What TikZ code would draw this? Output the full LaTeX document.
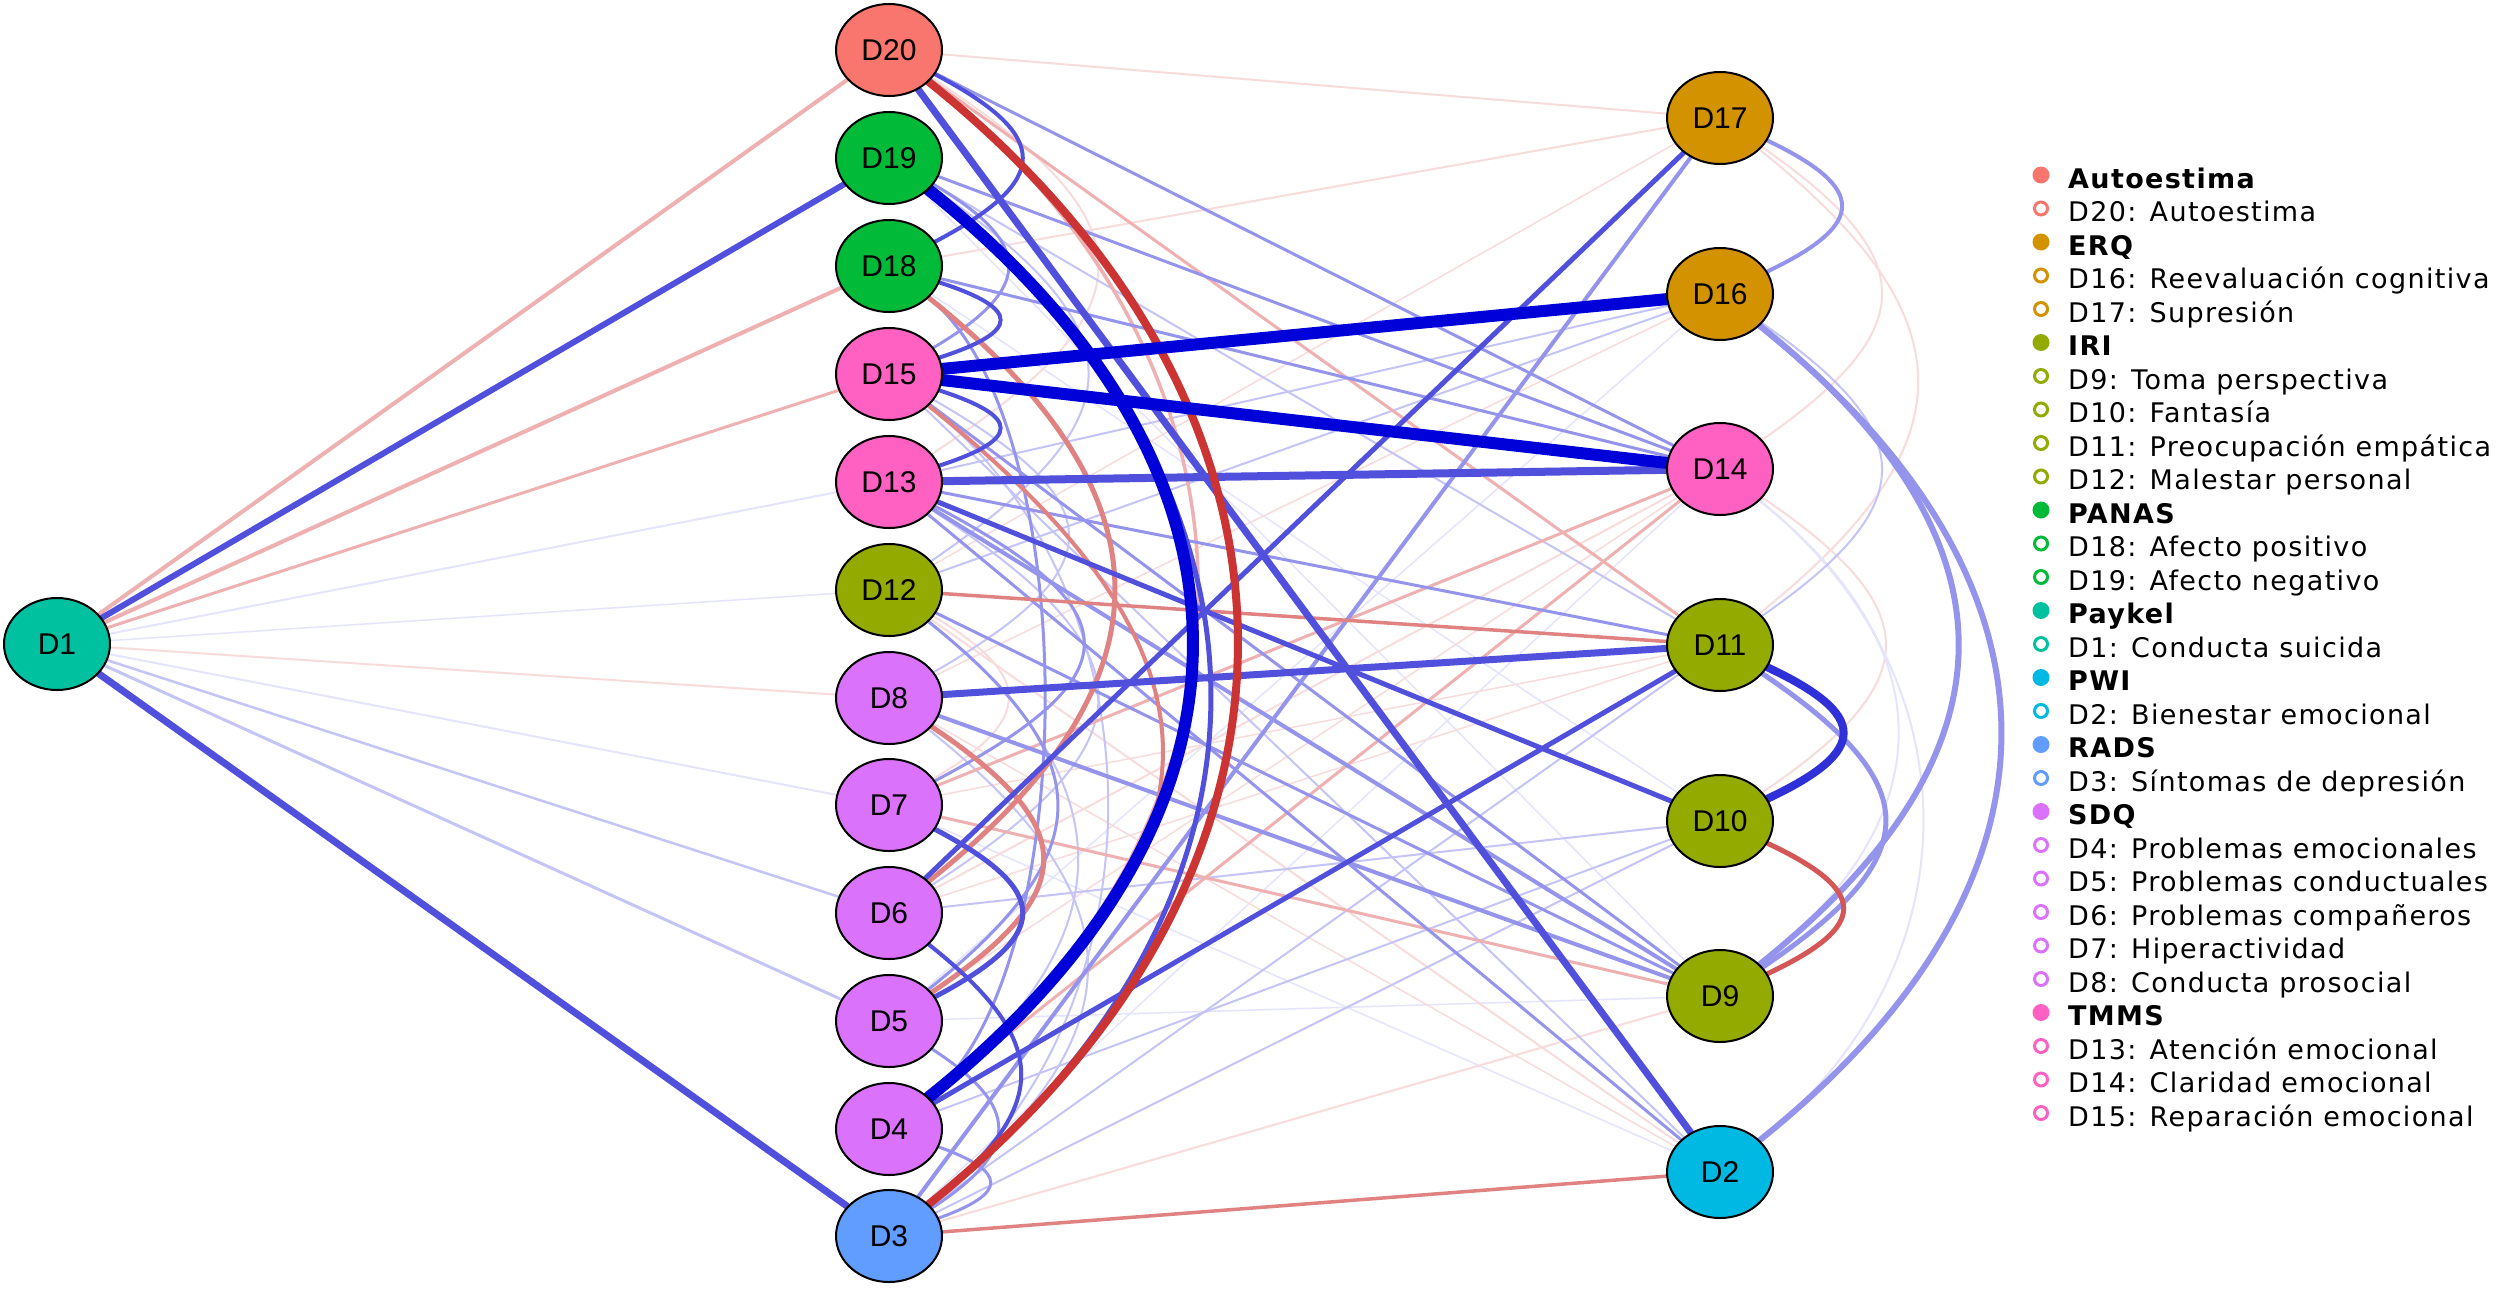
\documentclass[tikz,border=0pt]{standalone}
\usepackage{fontspec}
\setmainfont{Liberation Sans}
\newfontfamily\legfont[LetterSpace=5]{DejaVu Sans}
\usetikzlibrary{shapes.geometric}
\pgfdeclarelayer{bg}
\pgfdeclarelayer{edges}
\pgfsetlayers{bg,edges,main}
\definecolor{cAuto}{HTML}{F8766D}
\definecolor{cERQ}{HTML}{D39200}
\definecolor{cIRI}{HTML}{93AA00}
\definecolor{cPANAS}{HTML}{00BA38}
\definecolor{cPaykel}{HTML}{00C19F}
\definecolor{cPWI}{HTML}{00B9E3}
\definecolor{cRADS}{HTML}{619CFF}
\definecolor{cSDQ}{HTML}{DB72FB}
\definecolor{cTMMS}{HTML}{FF61C3}
\definecolor{eb1}{HTML}{0000D8}
\definecolor{eb15}{HTML}{3030D8}
\definecolor{eb2}{HTML}{5050DC}
\definecolor{eb3}{HTML}{9494EC}
\definecolor{eb4}{HTML}{C4C4F6}
\definecolor{eb5}{HTML}{E4E4FC}
\definecolor{er1}{HTML}{CC3333}
\definecolor{er15}{HTML}{D45656}
\definecolor{er2}{HTML}{E08282}
\definecolor{er3}{HTML}{EEB0B0}
\definecolor{er4}{HTML}{F8DCDC}
\newcommand\myedge[3]{\draw[edg,#1] (#2)--(#3);}
\newcommand\mycurve[5]{\draw[edg,#1] (#2) .. controls +(#4,-#5) and +(#4,#5) .. (#3);}
\begin{document}
\begin{tikzpicture}[x=1pt,y=1pt,
  vnode/.style={ellipse,draw=black,line width=2pt,minimum width=106pt,minimum height=92pt,inner sep=0pt,font=\fontsize{30}{30}\selectfont},
  edg/.style={line cap=round},
  legtxt/.style={anchor=base west,inner sep=0pt,font=\legfont\fontsize{27}{27}\selectfont},
  leghead/.style={anchor=base west,inner sep=0pt,font=\legfont\bfseries\fontsize{27}{27}\selectfont}]
\begin{pgfonlayer}{bg}
\fill[white] (0,0) rectangle (2508,-1288);
\end{pgfonlayer}
\useasboundingbox (0,0) rectangle (2508,-1288);
% nodes
\node[vnode,fill=cPaykel] (D1) at (57,-644) {D1};
\node[vnode,fill=cAuto] (D20) at (889,-50) {D20};
\node[vnode,fill=cPANAS] (D19) at (889,-158) {D19};
\node[vnode,fill=cPANAS] (D18) at (889,-266) {D18};
\node[vnode,fill=cTMMS] (D15) at (889,-374) {D15};
\node[vnode,fill=cTMMS] (D13) at (889,-482) {D13};
\node[vnode,fill=cIRI] (D12) at (889,-590) {D12};
\node[vnode,fill=cSDQ] (D8) at (889,-698) {D8};
\node[vnode,fill=cSDQ] (D7) at (889,-805) {D7};
\node[vnode,fill=cSDQ] (D6) at (889,-913) {D6};
\node[vnode,fill=cSDQ] (D5) at (889,-1021) {D5};
\node[vnode,fill=cSDQ] (D4) at (889,-1129) {D4};
\node[vnode,fill=cRADS] (D3) at (889,-1236) {D3};
\node[vnode,fill=cERQ] (D17) at (1720,-118) {D17};
\node[vnode,fill=cERQ] (D16) at (1720,-294) {D16};
\node[vnode,fill=cTMMS] (D14) at (1720,-469) {D14};
\node[vnode,fill=cIRI] (D11) at (1720,-645) {D11};
\node[vnode,fill=cIRI] (D10) at (1720,-821) {D10};
\node[vnode,fill=cIRI] (D9) at (1720,-996) {D9};
\node[vnode,fill=cPWI] (D2) at (1720,-1172) {D2};
\begin{pgfonlayer}{edges}
% very faint
\myedge{eb5,line width=2pt}{D1}{D13}
\myedge{eb5,line width=1.5pt}{D1}{D12}
\myedge{eb5,line width=2pt}{D1}{D7}
\myedge{eb5,line width=1.5pt}{D7}{D2}
\myedge{eb5,line width=1.5pt}{D5}{D9}
\myedge{eb5,line width=1.5pt}{D18}{D10}
\myedge{eb5,line width=1.5pt}{D19}{D9}
\myedge{eb5,line width=1.5pt}{D5}{D16}
\myedge{eb5,line width=1.5pt}{D3}{D14}
\myedge{er4,line width=2pt}{D1}{D8}
\myedge{er4,line width=2pt}{D20}{D17}
\myedge{er4,line width=2pt}{D18}{D17}
\myedge{er4,line width=1.5pt}{D12}{D17}
\myedge{er4,line width=1.5pt}{D8}{D16}
\myedge{er4,line width=1.5pt}{D6}{D11}
\myedge{er4,line width=1.5pt}{D5}{D14}
\myedge{er4,line width=1.5pt}{D7}{D11}
\myedge{er4,line width=2pt}{D3}{D9}
\myedge{er4,line width=2pt}{D12}{D2}
\myedge{er4,line width=1.5pt}{D8}{D2}
\myedge{er4,line width=2pt}{D6}{D14}
\mycurve{er4,line width=2pt}{D17}{D14}{202}{140}
\mycurve{er4,line width=2pt}{D17}{D11}{251}{201}
\mycurve{er4,line width=2pt}{D14}{D10}{207}{140}
\mycurve{eb5,line width=2pt}{D14}{D2}{258}{206}
\mycurve{eb5,line width=2pt}{D14}{D9}{225}{180}
\mycurve{er4,line width=2pt}{D20}{D13}{265}{173}
\mycurve{er4,line width=2pt}{D12}{D7}{145}{86}
% light blue
\myedge{eb4,line width=2.5pt}{D1}{D6}
\myedge{eb4,line width=3pt}{D1}{D5}
\myedge{eb4,line width=2pt}{D12}{D16}
\myedge{eb4,line width=2pt}{D6}{D10}
\myedge{eb4,line width=2pt}{D19}{D11}
\myedge{eb4,line width=2pt}{D4}{D10}
\myedge{eb4,line width=2pt}{D3}{D10}
\myedge{eb4,line width=2pt}{D3}{D11}
\myedge{eb4,line width=2pt}{D13}{D16}
\myedge{eb4,line width=2pt}{D15}{D2}
\mycurve{eb4,line width=2pt}{D16}{D11}{202}{140}
\mycurve{eb4,line width=2pt}{D19}{D12}{252}{173}
\mycurve{eb4,line width=2pt}{D15}{D8}{225}{130}
\mycurve{eb4,line width=2pt}{D12}{D4}{239}{191}
\mycurve{eb4,line width=2pt}{D8}{D3}{252}{201}
\mycurve{eb4,line width=2pt}{D13}{D6}{265}{173}
\mycurve{eb4,line width=2pt}{D15}{D3}{279}{223}
% light red
\myedge{er3,line width=4pt}{D1}{D20}
\myedge{er3,line width=4pt}{D1}{D18}
\myedge{er3,line width=3pt}{D1}{D15}
\myedge{er3,line width=3pt}{D20}{D11}
\myedge{er3,line width=3pt}{D4}{D14}
\myedge{er3,line width=3pt}{D7}{D14}
\myedge{er3,line width=3pt}{D7}{D9}
\mycurve{er3,line width=3.5pt}{D20}{D4}{399}{319}
% medium-light blue
\myedge{eb3,line width=4pt}{D13}{D9}
\myedge{eb3,line width=3pt}{D13}{D2}
\myedge{eb3,line width=3pt}{D13}{D11}
\myedge{eb3,line width=4pt}{D3}{D17}
\myedge{eb3,line width=3pt}{D20}{D14}
\myedge{eb3,line width=4pt}{D8}{D9}
\myedge{eb3,line width=3pt}{D15}{D9}
\myedge{eb3,line width=3pt}{D18}{D14}
\myedge{eb3,line width=3pt}{D19}{D14}
\myedge{eb3,line width=3pt}{D12}{D9}
\mycurve{eb3,line width=3pt}{D18}{D4}{195}{156}
\mycurve{eb3,line width=3pt}{D12}{D5}{212}{170}
\mycurve{eb3,line width=3pt}{D13}{D7}{245}{129}
\mycurve{eb3,line width=3pt}{D5}{D3}{132}{86}
\mycurve{eb3,line width=3pt}{D19}{D15}{145}{86}
\mycurve{eb3,line width=3pt}{D4}{D3}{119}{43}
\mycurve{eb3,line width=4pt}{D17}{D16}{147}{70}
\mycurve{eb3,line width=5pt}{D11}{D9}{207}{140}
\mycurve{eb3,line width=6pt}{D16}{D9}{305}{244}
\mycurve{eb3,line width=6pt}{D16}{D2}{362}{290}
% salmon
\myedge{er2,line width=3.5pt}{D12}{D11}
\myedge{er2,line width=3.5pt}{D3}{D2}
\mycurve{er2,line width=5pt}{D18}{D6}{288}{230}
\mycurve{er2,line width=4pt}{D15}{D4}{352}{282}
\mycurve{er2,line width=5pt}{D8}{D5}{192}{129}
\mycurve{er15,line width=5pt}{D10}{D9}{149}{70}
% medium blue
\myedge{eb2,line width=6pt}{D1}{D19}
\myedge{eb2,line width=7pt}{D1}{D3}
\myedge{eb2,line width=8pt}{D13}{D14}
\myedge{eb2,line width=7pt}{D8}{D11}
\myedge{eb2,line width=7pt}{D20}{D2}
\myedge{eb2,line width=5pt}{D6}{D17}
\myedge{eb2,line width=5pt}{D4}{D11}
\myedge{eb2,line width=5pt}{D13}{D10}
\mycurve{eb2,line width=5pt}{D19}{D3}{416}{333}
\mycurve{eb2,line width=4pt}{D20}{D18}{163}{86}
\mycurve{eb2,line width=4pt}{D18}{D15}{132}{43}
\mycurve{eb2,line width=4pt}{D15}{D13}{132}{43}
\mycurve{eb2,line width=5pt}{D7}{D5}{163}{86}
\mycurve{eb2,line width=4pt}{D6}{D3}{163}{129}
\mycurve{eb15,line width=8pt}{D11}{D10}{149}{70}
% strong
\mycurve{er1,line width=8pt}{D20}{D3}{452}{362}
\mycurve{eb1,line width=12pt}{D19}{D4}{392}{314}
\myedge{eb1,line width=12pt}{D15}{D16}
\myedge{eb1,line width=12pt}{D15}{D14}
\end{pgfonlayer}
% legend
\foreach \t/\c/\h [count=\i from 0] in {Autoestima/cAuto/1, D20: Autoestima/cAuto/0, ERQ/cERQ/1, D16: Reevaluación cognitiva/cERQ/0, D17: Supresión/cERQ/0, IRI/cIRI/1, D9: Toma perspectiva/cIRI/0, D10: Fantasía/cIRI/0, D11: Preocupación empática/cIRI/0, D12: Malestar personal/cIRI/0, PANAS/cPANAS/1, D18: Afecto positivo/cPANAS/0, D19: Afecto negativo/cPANAS/0, Paykel/cPaykel/1, D1: Conducta suicida/cPaykel/0, PWI/cPWI/1, D2: Bienestar emocional/cPWI/0, RADS/cRADS/1, D3: Síntomas de depresión/cRADS/0, SDQ/cSDQ/1, D4: Problemas emocionales/cSDQ/0, D5: Problemas conductuales/cSDQ/0, D6: Problemas compañeros/cSDQ/0, D7: Hiperactividad/cSDQ/0, D8: Conducta prosocial/cSDQ/0, TMMS/cTMMS/1, D13: Atención emocional/cTMMS/0, D14: Claridad emocional/cTMMS/0, D15: Reparación emocional/cTMMS/0}{
  \pgfmathsetmacro\yy{-175-33.5*\i}
  \ifnum\h=1
    \fill[\c] (2041,\yy) circle (8.5);
    \node[leghead] (L\i) at (2068,\yy-13) {\t};
  \else
    \draw[\c,line width=3pt] (2041,\yy) circle (6.5);
    \node[legtxt] (L\i) at (2068,\yy-13) {\t};
  \fi
}
\end{tikzpicture}
\end{document}
